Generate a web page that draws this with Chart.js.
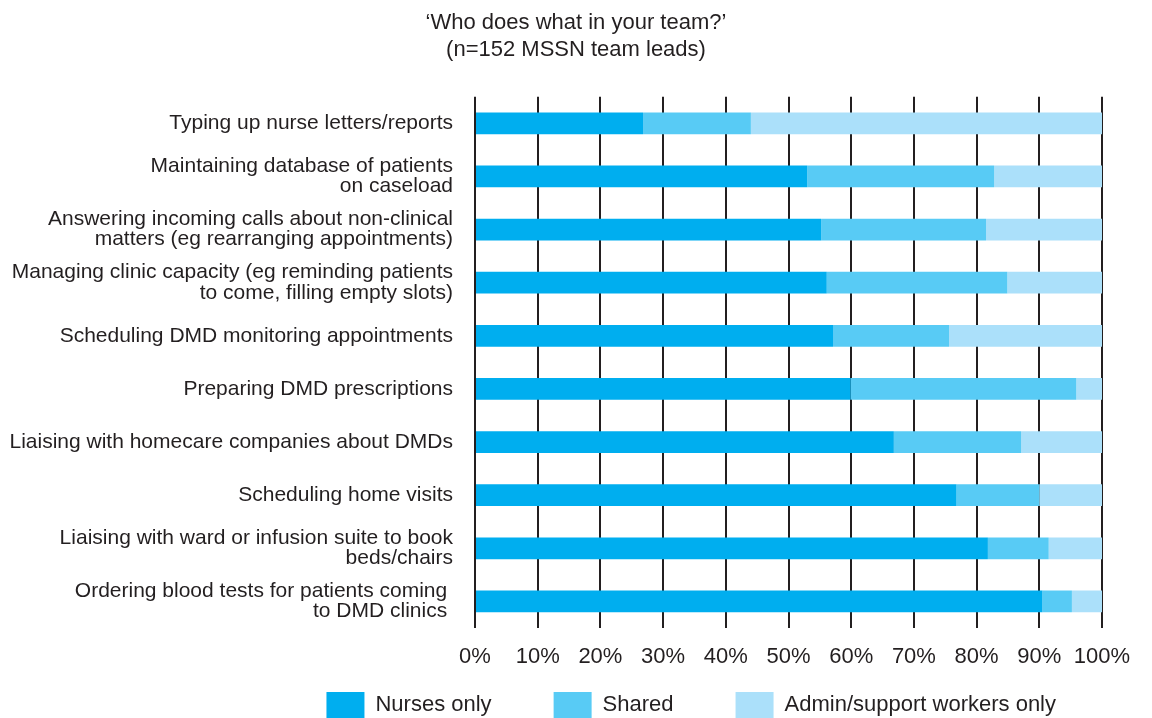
<!DOCTYPE html>
<html>
<head>
<meta charset="utf-8">
<script src="https://cdn.jsdelivr.net/npm/chart.js@4/dist/chart.umd.min.js"></script>
<style>
  html, body { margin: 0; padding: 0; background: #ffffff; }
  #wrap { width: 1152px; height: 718px; }
</style>
</head>
<body>
<div id="wrap"><canvas id="c" width="1152" height="718"></canvas></div>
<script>
const categories = [
  'Typing up nurse letters/reports',
  ['Maintaining database of patients', 'on caseload'],
  ['Answering incoming calls about non-clinical', 'matters (eg rearranging appointments)'],
  ['Managing clinic capacity (eg reminding patients', 'to come, filling empty slots)'],
  'Scheduling DMD monitoring appointments',
  'Preparing DMD prescriptions',
  'Liaising with homecare companies about DMDs',
  'Scheduling home visits',
  ['Liaising with ward or infusion suite to book', 'beds/chairs'],
  ['Ordering blood tests for patients coming ', 'to DMD clinics ']
];
const nursesOnly = [26.8, 53.0, 55.2, 56.1, 57.1, 59.9, 66.8, 76.8, 81.8, 90.5];
const shared     = [17.2, 29.8, 26.3, 28.8, 18.5, 36.0, 20.3, 13.2, 9.7, 4.7];
const adminOnly  = [56.0, 17.2, 18.5, 15.1, 24.4, 4.1, 12.9, 10.0, 8.5, 4.8];
const seriesNames = ['Nurses only', 'Shared', 'Admin/support workers only'];
const titleLines = ['\u2018Who does what in your team?\u2019', '(n=152 MSSN team leads)'];
const xTicks = [0, 10, 20, 30, 40, 50, 60, 70, 80, 90, 100];

const FONT = '"Liberation Sans", Arial, Helvetica, sans-serif';
const INK = '#231f20';
const colors = ['#00aeef', '#58cbf5', '#abe0fa'];
const LEGEND_RIGHT = 1118;

// Re-place the title (centred on full canvas) and the legend (bottom, right-aligned)
const placeBlocks = {
  id: 'placeBlocks',
  afterLayout(chart) {
    const t = chart.titleBlock;
    if (t) { t.left = 0; t.right = chart.width; t.width = chart.width; }
    const lg = chart.legend;
    if (lg) {
      const lab = lg.options.labels;
      const h = lg.height;
      lg.top = chart.height - lab.boxHeight - lab.padding;
      lg.bottom = lg.top + h;
      lg.right = LEGEND_RIGHT;
      lg.width = lg.right - lg.left;
    }
  }
};

new Chart(document.getElementById('c'), {
  type: 'bar',
  data: {
    labels: categories,
    datasets: [
      { label: seriesNames[0], data: nursesOnly, backgroundColor: colors[0], borderWidth: 0 },
      { label: seriesNames[1], data: shared, backgroundColor: colors[1], borderWidth: 0 },
      { label: seriesNames[2], data: adminOnly, backgroundColor: colors[2], borderWidth: 0 }
    ]
  },
  plugins: [placeBlocks],
  options: {
    indexAxis: 'y',
    responsive: false,
    animation: false,
    devicePixelRatio: 1,
    categoryPercentage: 1,
    barPercentage: 0.41,
    layout: { padding: { left: 0, right: 50, top: 0, bottom: -48 } },
    scales: {
      x: {
        stacked: true,
        min: 0,
        max: 100,
        afterBuildTicks: (scale) => { scale.ticks = xTicks.map(v => ({ value: v })); },
        afterFit: (scale) => { scale.height = 40; },
        border: { display: false },
        grid: { color: INK, lineWidth: 2, drawTicks: false },
        ticks: {
          padding: 16,
          color: INK,
          font: { family: FONT, size: 22 },
          maxRotation: 0,
          autoSkip: false,
          callback: (v) => v + '%'
        }
      },
      y: {
        stacked: true,
        afterFit: (scale) => { scale.width = 475; },
        border: { display: false },
        grid: { display: false, drawTicks: false },
        ticks: {
          padding: 22,
          color: INK,
          font: { family: FONT, size: 21, lineHeight: 0.96 },
          autoSkip: false
        }
      }
    },
    plugins: {
      title: {
        display: true,
        text: titleLines,
        color: INK,
        font: { family: FONT, size: 22, weight: 'normal', lineHeight: 1.2 },
        padding: { top: 10, bottom: 34 }
      },
      legend: {
        position: 'bottom',
        align: 'end',
        labels: {
          color: INK,
          font: { family: FONT, size: 22 },
          boxWidth: 38,
          boxHeight: 26,
          padding: 62
        }
      },
      tooltip: { enabled: false }
    }
  }
});
</script>
</body>
</html>
